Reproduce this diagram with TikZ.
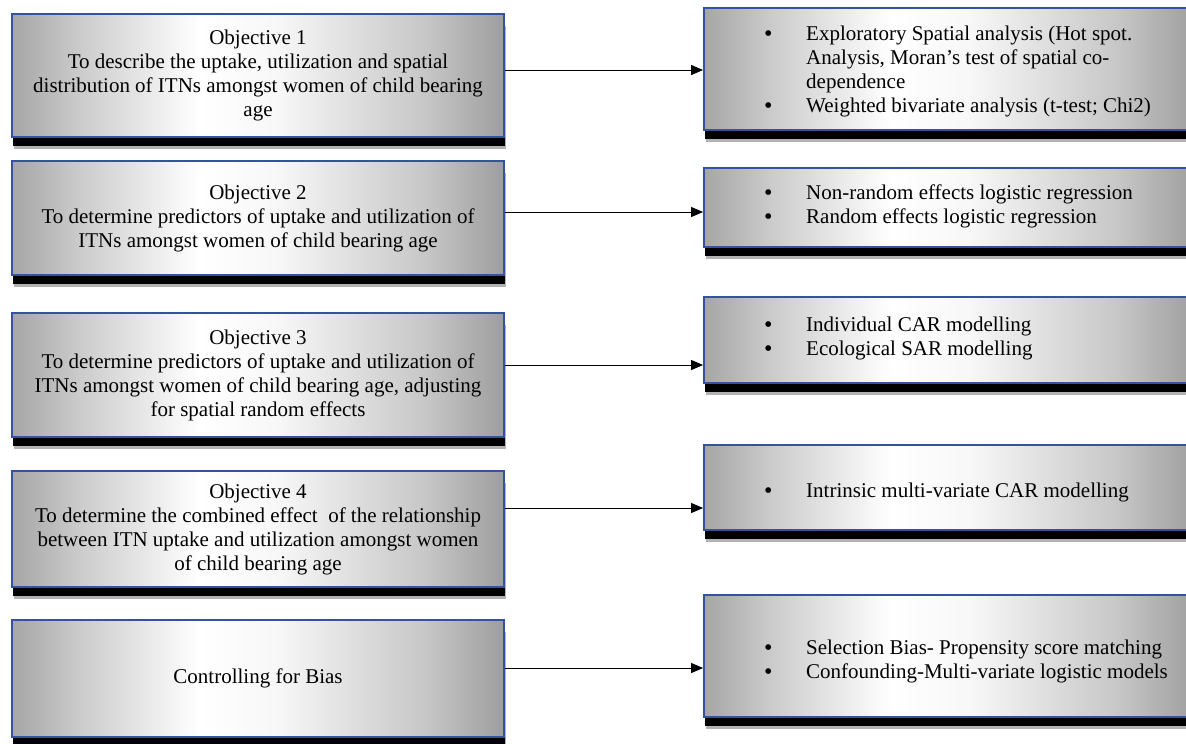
\documentclass[tikz,border=0pt]{standalone}
\usepackage{fontspec}
\setmainfont{Liberation Serif}
\usetikzlibrary{arrows.meta,shadows}
\definecolor{boxblue}{RGB}{52,82,158}
\pgfdeclarehorizontalshading{boxsh}{100bp}{color(0bp)=(black!35); color(25bp)=(black!35); color(32bp)=(black!20); color(44bp)=(white); color(52bp)=(white!97!black); color(67bp)=(black!22); color(75bp)=(black!38); color(100bp)=(black!38)}
\newcommand{\bul}{\makebox[42pt][l]{\raisebox{-1.2pt}{\fontsize{24}{24}\selectfont\textbullet}}}
\begin{document}
\begin{tikzpicture}[x=1pt,y=-1pt,
  boxbase/.style={rectangle, draw=boxblue, line width=1.8pt,
    shading=boxsh, shading angle=0,
    inner sep=0pt, minimum width=492pt,
    general shadow={fill=black, opacity=0.3, shadow xshift=1.5pt, shadow yshift=-12pt},
    general shadow={fill=black, shadow xshift=1pt, shadow yshift=-9pt}},
  objbox/.style={boxbase, align=center, font=\fontsize{21}{24}\selectfont},
  listtext/.style={inner sep=0pt, anchor=base west, font=\fontsize{21}{24}\selectfont},
  arr/.style={line width=1pt, -{Triangle[length=12pt,width=10pt]}}
]
\useasboundingbox (0,0) rectangle (1186,744);
\clip (0,0) rectangle (1186,744);

% left boxes
\node[objbox, minimum height=123pt] (L1) at (258,75.5)
  {Objective 1\\To describe the uptake, utilization and spatial\\distribution of ITNs amongst women of child bearing\\age};
\node[objbox, minimum height=114pt] (L2) at (258,218)
  {Objective 2\\To determine predictors of uptake and utilization of\\ITNs amongst women of child bearing age};
\node[objbox, minimum height=124pt] (L3) at (258,375)
  {Objective 3\\To determine predictors of uptake and utilization of\\ITNs amongst women of child bearing age, adjusting\\for spatial random effects};
\node[objbox, minimum height=116pt] (L4) at (258,529)
  {Objective 4\\To determine the combined effect~ of the relationship\\between ITN uptake and utilization amongst women\\of child bearing age};
\node[objbox, minimum height=117pt] (L5) at (258,678.5)
  {Controlling for Bias};

% right boxes
\node[boxbase, minimum height=122pt] (R1) at (950,69) {};
\node[boxbase, minimum height=79pt] (R2) at (950,207.5) {};
\node[boxbase, minimum height=86pt] (R3) at (950,340) {};
\node[boxbase, minimum height=85pt] (R4) at (950,487.5) {};
\node[boxbase, minimum height=122pt] (R5) at (950,656) {};

% right texts
\node[listtext] (T1) at (764,40) {\begin{tabular}[t]{@{}l@{}l@{}}
  \bul & Exploratory Spatial analysis (Hot spot.\\
  & Analysis, Moran’s test of spatial co-\\
  & dependence\\
  \bul & Weighted bivariate analysis (t-test; Chi2)\end{tabular}};
\node[listtext] (T2) at (764,199) {\begin{tabular}[t]{@{}l@{}l@{}}
  \bul & Non-random effects logistic regression\\
  \bul & Random effects logistic regression\end{tabular}};
\node[listtext] (T3) at (764,331) {\begin{tabular}[t]{@{}l@{}l@{}}
  \bul & Individual CAR modelling\\
  \bul & Ecological SAR modelling\end{tabular}};
\node[listtext] (T4) at (764,497) {\begin{tabular}[t]{@{}l@{}l@{}}
  \bul & Intrinsic multi-variate CAR modelling\end{tabular}};
\node[listtext] (T5) at (764,654) {\begin{tabular}[t]{@{}l@{}l@{}}
  \bul & Selection Bias- Propensity score matching\\
  \bul & Confounding-Multi-variate logistic models\end{tabular}};

% connectors
\coordinate (a1) at ([yshift=5.5pt]L1.east);
\coordinate (a2) at ([yshift=6pt]L2.east);
\coordinate (a3) at ([yshift=10pt]L3.east);
\coordinate (a4) at ([yshift=21pt]L4.east);
\coordinate (a5) at ([yshift=10.5pt]L5.east);
\draw[arr] (a1) -- (a1 -| R1.west);
\draw[arr] (a2) -- (a2 -| R2.west);
\draw[arr] (a3) -- (a3 -| R3.west);
\draw[arr] (a4) -- (a4 -| R4.west);
\draw[arr] (a5) -- (a5 -| R5.west);
\end{tikzpicture}
\end{document}
